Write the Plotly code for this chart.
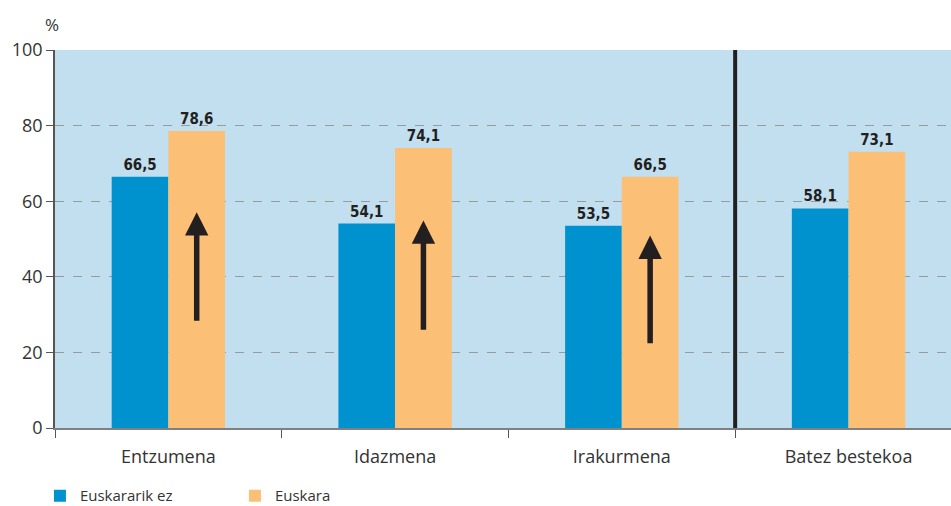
import plotly.graph_objects as go

# Data
categories = ["Entzumena", "Idazmena", "Irakurmena", "Batez bestekoa"]
series_names = ["Euskararik ez", "Euskara"]
euskararik_ez = [66.5, 54.1, 53.5, 58.1]
euskara = [78.6, 74.1, 66.5, 73.1]

# Arrows inside the "Euskara" bars: (category index, tail value, tip value)
arrow_cat = [0, 1, 2]
arrow_tail = [28.0, 25.6, 22.0]
arrow_tip = [57.1, 54.9, 50.9]

y_ticks = [0, 20, 40, 60, 80, 100]

BLUE = "#0092cf"
ORANGE = "#fcbf76"
BG = "#c2dff0"
DARK = "#231f20"
TEXT = "#333333"

def fmt(v):
    return f"{v:.1f}".replace(".", ",")

fig = go.Figure()
for name, vals, col in [(series_names[0], euskararik_ez, BLUE),
                        (series_names[1], euskara, ORANGE)]:
    fig.add_trace(go.Bar(
        x=categories, y=vals, name=name,
        marker=dict(color=col, line=dict(width=0)),
        text=[fmt(v) for v in vals],
        textposition="outside",
        textfont=dict(family="DejaVu Sans Condensed", size=15, color=DARK, weight="bold"),
        cliponaxis=False,
    ))

# Upward arrows in the orange bars (offset of a quarter category to the right)
for c, t0, t1 in zip(arrow_cat, arrow_tail, arrow_tip):
    fig.add_annotation(
        x=c + 0.125, y=t1, ax=c + 0.125, ay=t0,
        xref="x", yref="y", axref="x", ayref="y",
        text="", showarrow=True,
        arrowhead=2, arrowwidth=5.5, arrowsize=0.85, arrowcolor=DARK,
    )

# Separator before the average column
fig.add_shape(type="line", x0=2.5, x1=2.5, y0=0, y1=100,
              xref="x", yref="y", line=dict(color=DARK, width=4))

# Percent sign above the y axis
fig.add_annotation(text="%", xref="paper", yref="paper", x=0, y=1,
                   xanchor="center", yanchor="bottom", yshift=12, xshift=-3,
                   showarrow=False, font=dict(family="Open Sans", size=17, color=TEXT))

fig.update_layout(
    width=951, height=506,
    margin=dict(l=55, r=0, t=50, b=78),
    paper_bgcolor="white",
    plot_bgcolor=BG,
    barmode="group",
    bargap=0.5,
    bargroupgap=0,
    font=dict(family="Open Sans", color=TEXT),
    showlegend=True,
    legend=dict(orientation="h", xref="container", yref="container",
                x=0.042, y=0.02, xanchor="left", yanchor="middle",
                font=dict(size=15, color=TEXT),
                entrywidth=150, entrywidthmode="pixels",
                bgcolor="rgba(0,0,0,0)"),
    xaxis=dict(
        type="category",
        range=[-0.5, 3.452],
        showline=True, linecolor="#808080", linewidth=1.5,
        ticks="outside", tickson="boundaries", ticklen=8,
        tickcolor="#555555", tickwidth=1.2,
        ticklabelstandoff=12,
        showgrid=False,
        tickfont=dict(size=18, color=TEXT),
    ),
    yaxis=dict(
        range=[0, 100],
        tickvals=y_ticks,
        showline=True, linecolor="#555555", linewidth=1.5,
        ticks="outside", ticklen=7, tickcolor="#555555", tickwidth=1.2,
        showgrid=True, gridcolor="#9a9a9a", griddash="dash", gridwidth=1,
        zeroline=False,
        tickfont=dict(size=18, color=TEXT),
    ),
)

fig.write_html("out.html")
